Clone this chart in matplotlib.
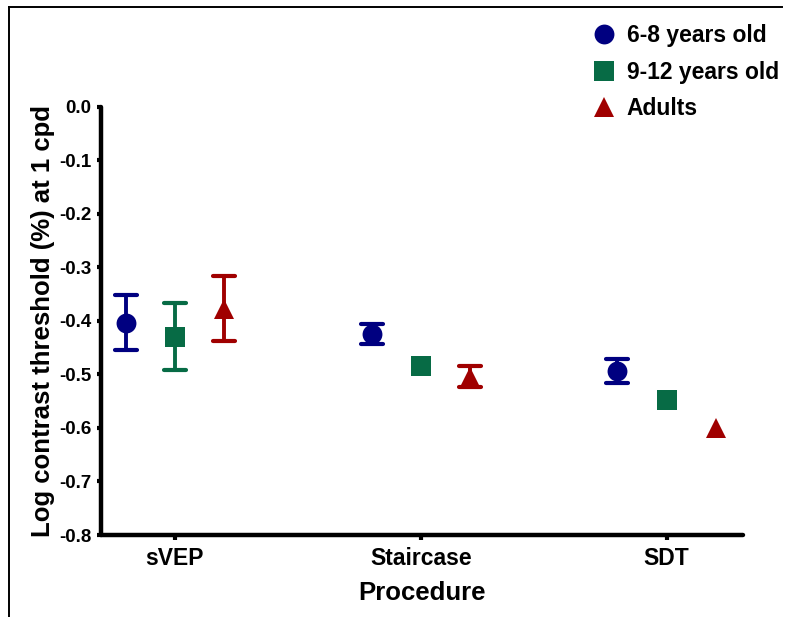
import numpy as np
import matplotlib.pyplot as plt
from matplotlib.lines import Line2D
from matplotlib.markers import MarkerStyle

plt.rcParams['font.family'] = ['Liberation Sans', 'DejaVu Sans']
plt.rcParams['font.weight'] = 'bold'

procedures = ["sVEP", "Staircase", "SDT"]
groups = ["6-8 years old", "9-12 years old", "Adults"]

# mean log threshold and error per procedure
means_6_8 = [-0.403, -0.424, -0.493]
err_6_8 = [0.052, 0.019, 0.022]
means_9_12 = [-0.429, -0.485, -0.548]
err_9_12 = [0.063, 0.0, 0.0]
means_adults = [-0.377, -0.504, -0.600]
err_adults = [0.061, 0.020, 0.0]

yticks = [0.0, -0.1, -0.2, -0.3, -0.4, -0.5, -0.6, -0.7, -0.8]

series = [
    (means_6_8, err_6_8, "o", "#000080", -0.2),
    (means_9_12, err_9_12, "s", "#076B45", 0.0),
    (means_adults, err_adults, "^", "#A00000", 0.2),
]

fig = plt.figure(figsize=(7.87, 6.17), dpi=100)
ax = fig.add_axes([0.1283, 0.1329, 0.8157, 0.6937])

x = np.arange(1, len(procedures) + 1)
handles = []
for (m, e, mk, col, off), name in zip(series, groups):
    m = np.array(m)
    e = np.array(e)
    xs = x + off
    has_err = e > 0
    if has_err.any():
        _, caps, bars = ax.errorbar(xs[has_err], m[has_err], yerr=e[has_err],
                                    fmt="none", ecolor=col, elinewidth=2.8,
                                    capsize=8.2, capthick=3.0, clip_on=False,
                                    zorder=2)
        for c in caps:
            c.set_marker(MarkerStyle("_", capstyle="round"))
            c.set_markersize(16.4)
    ax.plot(xs, m, linestyle="none", marker=mk, markersize=14.3, color=col,
            markeredgewidth=0, clip_on=False, zorder=3)
    handles.append(Line2D([], [], linestyle="none", marker=mk, markersize=14.3,
                          color=col, markeredgewidth=0, label=name))

ax.set_xlim(0.7, 3.31)
ax.set_ylim(-0.8, 0.0)
ax.set_yticks(yticks)
ax.set_yticklabels([f"{v:.1f}" for v in yticks])
ax.set_xticks(x)
ax.set_xticklabels(procedures)

for side in ["top", "right"]:
    ax.spines[side].set_visible(False)
for side in ["left", "bottom"]:
    ax.spines[side].set_linewidth(3.2)
    ax.spines[side].set_capstyle("round")

ax.tick_params(axis="y", direction="out", length=3, width=3, labelsize=13.5, pad=4)
ax.tick_params(axis="x", direction="out", length=3.5, width=3, labelsize=16.5, pad=5)

ax.set_xlabel("Procedure", fontsize=18.5, fontweight="bold", labelpad=8)
ax.set_ylabel("Log contrast threshold (%) at 1 cpd", fontsize=18.5,
              fontweight="bold", labelpad=3)

fig.legend(handles=handles, loc="upper left", bbox_to_anchor=(0.741, 0.976),
           frameon=False, fontsize=16.5, handlelength=1.0, handletextpad=0.5,
           labelspacing=0.6, borderaxespad=0)

# outer frame lines (top and left)
fig.add_artist(Line2D([9 / 787, 9 / 787], [0, 1 - 7 / 617], transform=fig.transFigure,
                      color="black", linewidth=1.4))
fig.add_artist(Line2D([9 / 787, 782 / 787], [1 - 7 / 617, 1 - 7 / 617],
                      transform=fig.transFigure, color="black", linewidth=1.4))

fig.savefig("out.png", dpi=100)
